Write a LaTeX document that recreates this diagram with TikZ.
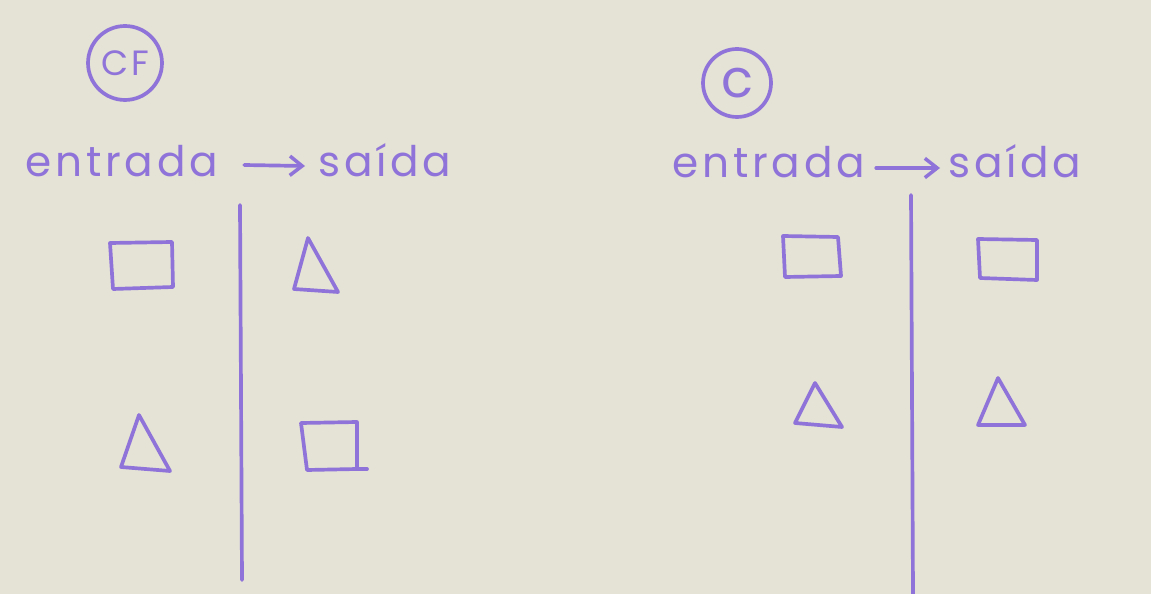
\documentclass[tikz,border=0pt]{standalone}
\usepackage{fontspec}
\setmainfont{Poppins}[LetterSpace=9]
\usetikzlibrary{arrows.meta}
\definecolor{paper}{HTML}{E4E3D5}
\definecolor{ink}{HTML}{8F73D9}
\begin{document}
\begin{tikzpicture}[x=0.02cm,y=-0.02cm,
  inkline/.style={draw=ink, line width=2.1pt, line cap=round, line join=round},
  word/.style={text=ink, font=\fontsize{24}{28}\selectfont, inner sep=0pt, anchor=base west},
  badge/.style={circle, draw=ink, line width=2.1pt, text=ink, inner sep=0pt, font=\fontsize{20}{22}\selectfont},
  arr/.style={inkline, -{Straight Barb[length=7pt,width=11pt,line width=2pt]}}]
\fill[paper] (0,0) rectangle (1151,594);
\useasboundingbox (0,0) rectangle (1151,594);
% badges
\node[badge, minimum size=1.48cm] (cf) at (125,63) {CF};
\node[badge, minimum size=1.36cm, font=\fontsize{30}{34}\selectfont] (c) at (737,83) {c};
% headings left
\node[word] (inL) at (25,177) {entrada};
\node[word] (outL) at (318,177) {saída};
\draw[arr] ([xshift=0.52cm,yshift=0.24cm]inL.base east) -- ([xshift=-0.26cm,yshift=0.22cm]outL.base west);
% headings right
\node[word] (inR) at (672,178) {entrada};
\node[word] (outR) at (948,178) {saída};
\draw[arr] ([xshift=0.22cm,yshift=0.2cm]inR.base east) -- ([xshift=-0.16cm,yshift=0.2cm]outR.base west);
% dividers
\draw[inkline] (240,205) -- (242,580);
\draw[inkline] (911,195) -- (913,594);
% left panel shapes
\draw[inkline] (110,243) -- (172,242) -- (173,287) -- (113,289) -- cycle;
\draw[inkline] (308,238) -- (338,292) -- (294,289) -- cycle;
\draw[inkline] (139,415) -- (170,471) -- (121,467) -- cycle;
\draw[inkline] (301,423) -- (357,422) -- (357,469) -- (307,470) -- (301,423);
\draw[inkline] (357,469) -- (367,469);
% right panel shapes
\draw[inkline] (783,236) -- (838,237) -- (841,276) -- (785,277) -- cycle;
\draw[inkline] (978,239) -- (1037,240) -- (1037,280) -- (980,278) -- cycle;
\draw[inkline] (815,383) -- (842,427) -- (795,423) -- cycle;
\draw[inkline] (998,378) -- (1025,425) -- (978,425) -- cycle;
\end{tikzpicture}
\end{document}
